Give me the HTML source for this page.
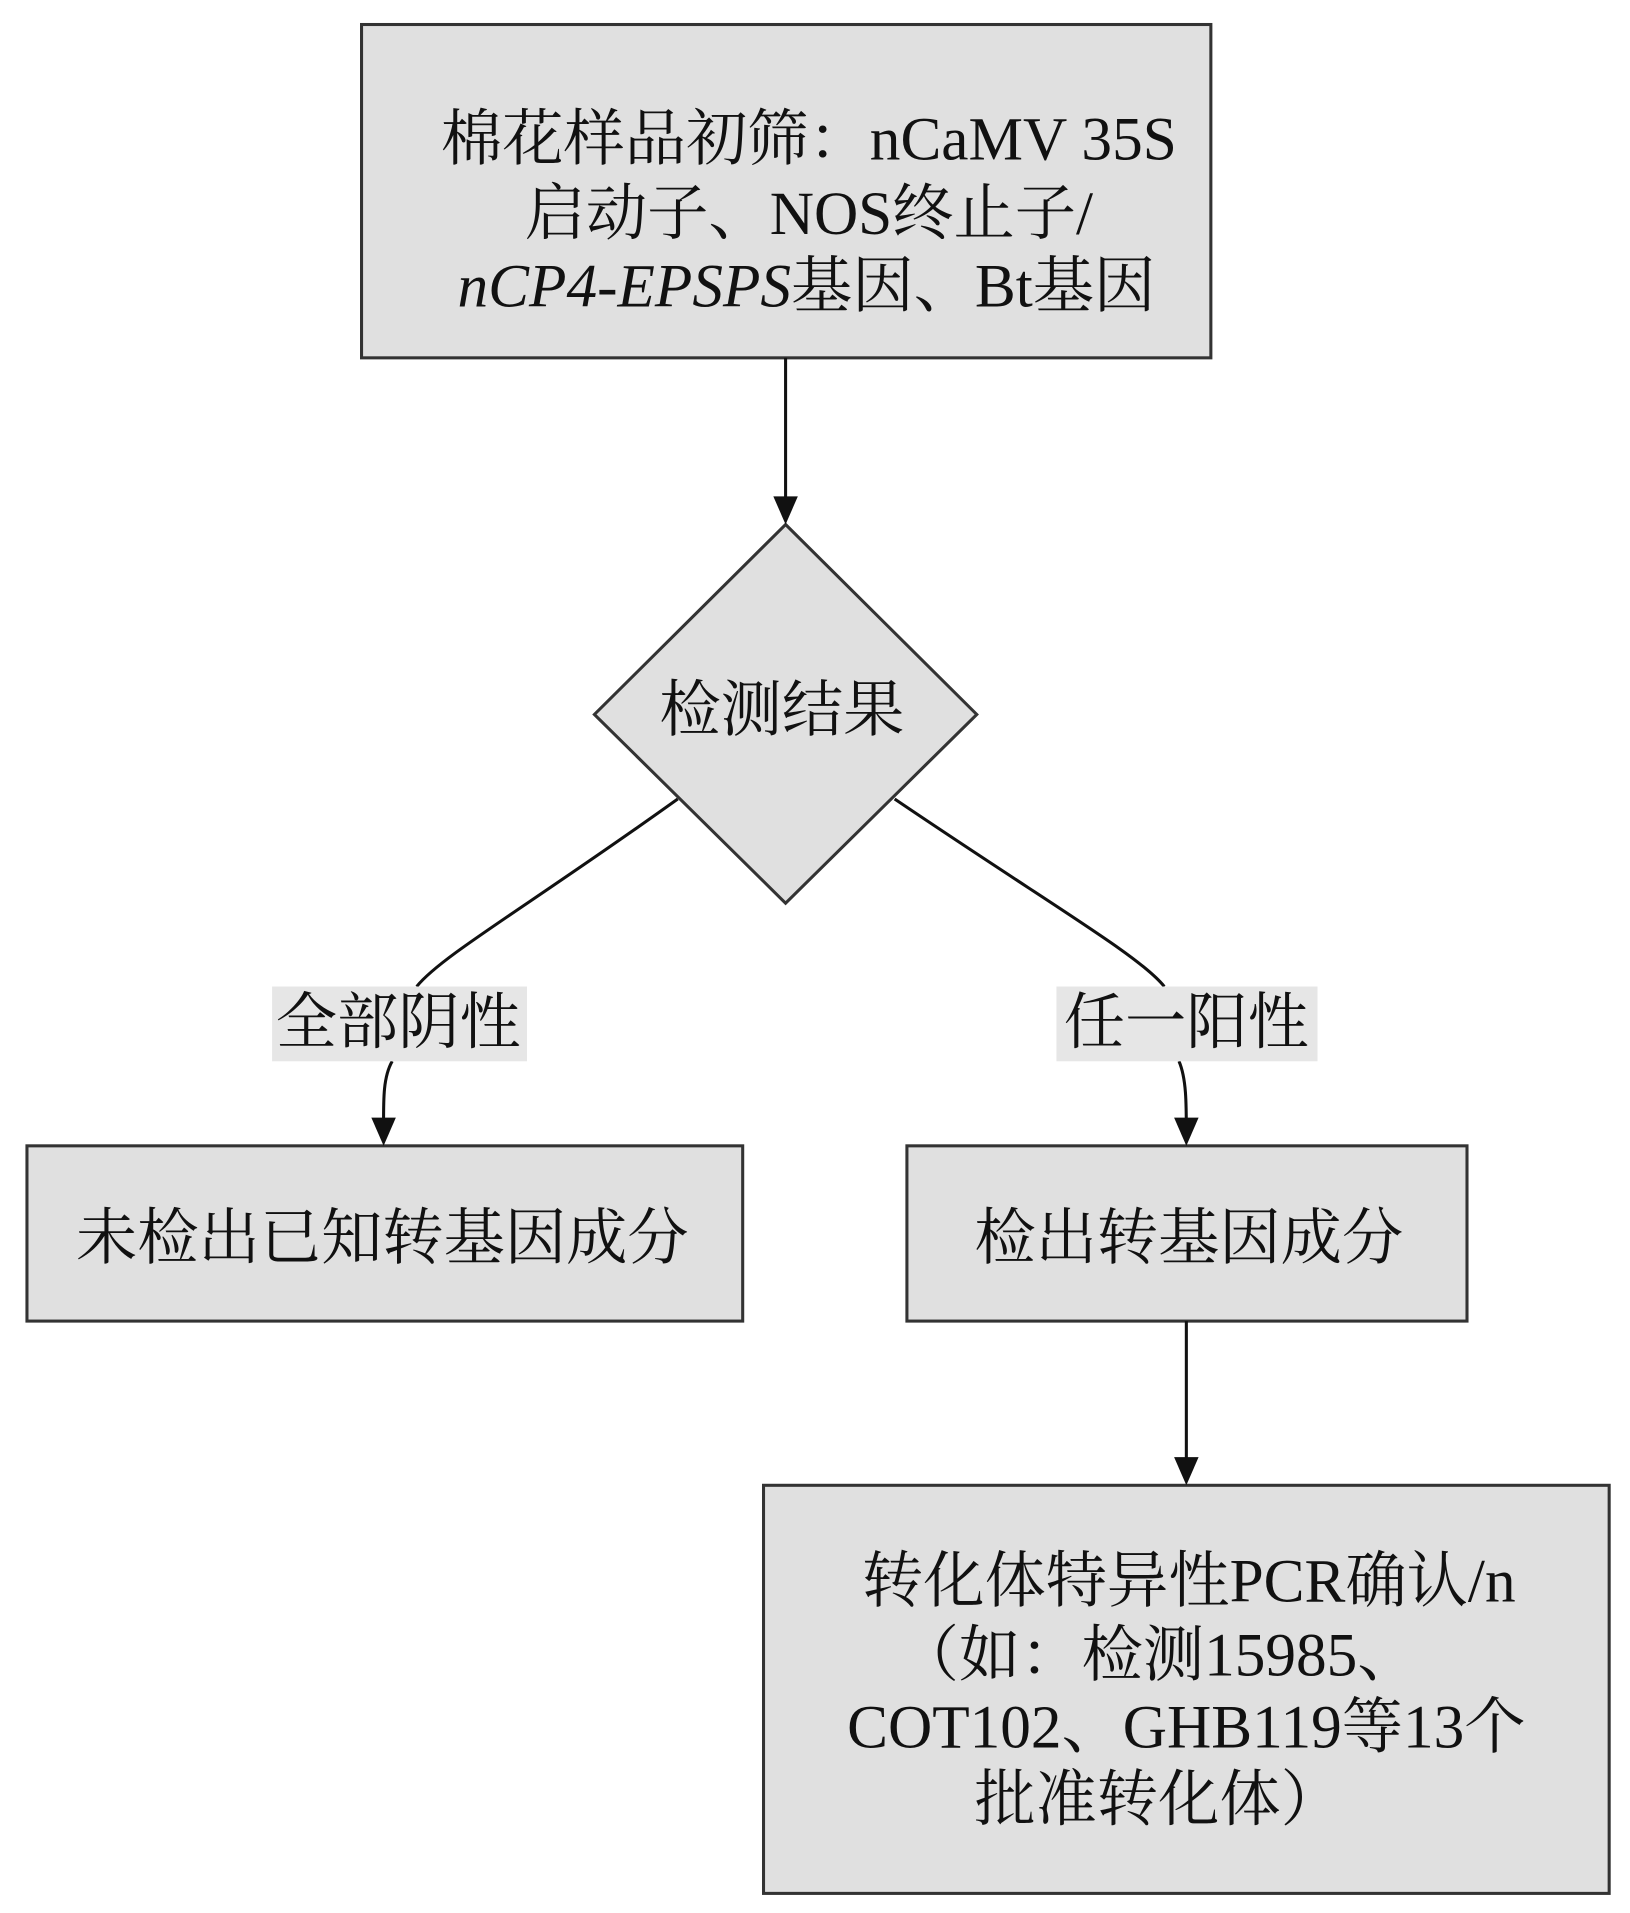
<!DOCTYPE html>
<html><head><meta charset="utf-8"><style>html,body{margin:0;padding:0;background:#fff}svg{display:block}</style></head>
<body>
<svg width="1630" height="1913" viewBox="0 0 1330 1561" preserveAspectRatio="none" xmlns="http://www.w3.org/2000/svg" font-family="'Liberation Serif','Noto Serif CJK SC',serif" font-size="50" fill="#111">
<g stroke="#333" stroke-width="2.5" fill="#e0e0e0">
<rect x="295" y="20" width="693" height="272"/>
<polygon points="641,428 797,583 641,737 485,583"/>
<rect x="22" y="935" width="584" height="143"/>
<rect x="740" y="935" width="457" height="143"/>
<rect x="623" y="1212" width="690" height="333"/>
</g>
<g stroke="#111" stroke-width="2.5" fill="none">
<path d="M641,292 L641,418"/>
<path d="M553,652 C430,740 360,780 340,805"/>
<path d="M320,866 C312,880 313,900 313,925"/>
<path d="M730,652 C860,740 930,780 950,805"/>
<path d="M962,866 C968,880 968,900 968,925"/>
<path d="M968,1078 L968,1200"/>
</g>
<g fill="#111">
<path d="M631,405 L651,405 L641,428 Z"/>
<path d="M303,912 L323,912 L313,935 Z"/>
<path d="M958,912 L978,912 L968,935 Z"/>
<path d="M958,1189 L978,1189 L968,1212 Z"/>
</g>
<rect x="222" y="805" width="208" height="61" fill="#e6e6e6"/>
<rect x="862" y="805" width="213" height="61" fill="#e6e6e6"/>
<g text-anchor="middle">
<text x="660" y="130">棉花样品初筛：nCaMV 35S</text>
<text x="660" y="191">启动子、NOS终止子/</text>
<text x="658" y="250"><tspan font-style="italic">nCP4-EPSPS</tspan>基因、Bt基因</text>
<text x="638" y="596">检测结果</text>
<text x="325" y="851">全部阴性</text>
<text x="968" y="851">任一阳性</text>
<text x="312" y="1027">未检出已知转基因成分</text>
<text x="970" y="1027">检出转基因成分</text>
<text x="970" y="1307">转化体特异性PCR确认/n</text>
<text x="945" y="1367">（如：检测15985、</text>
<text x="968" y="1426">COT102、GHB119等13个</text>
<text x="945" y="1485">批准转化体）</text>
</g>
</svg>
</body></html>
